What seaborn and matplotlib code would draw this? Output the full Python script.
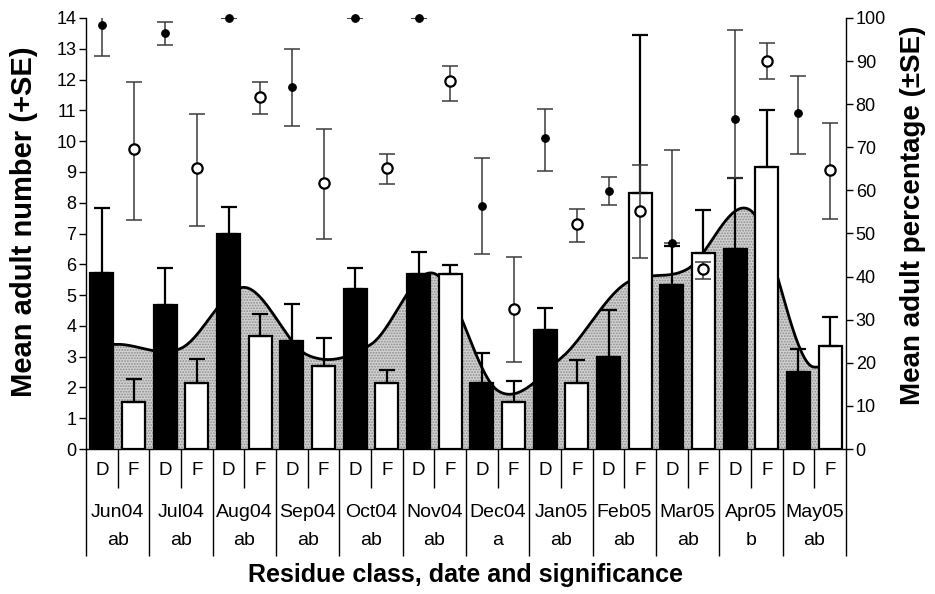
import numpy as np
import pandas as pd
import matplotlib
matplotlib.use("Agg")
import matplotlib.pyplot as plt
import seaborn as sns

# ---- data -------------------------------------------------------------
months = ["Jun04", "Jul04", "Aug04", "Sep04", "Oct04", "Nov04",
          "Dec04", "Jan05", "Feb05", "Mar05", "Apr05", "May05"]
signif = ["ab", "ab", "ab", "ab", "ab", "ab", "a", "ab", "ab", "ab", "b", "ab"]
classes = ["D", "F"]

# mean adult number (+SE)
d_mean = [5.71, 4.68, 6.98, 3.51, 5.20, 5.68, 2.14, 3.86, 2.99, 5.32, 6.49, 2.50]
d_se = [2.11, 1.19, 0.89, 1.20, 0.67, 0.72, 0.98, 0.72, 1.52, 1.28, 2.31, 0.75]
f_mean = [1.53, 2.14, 3.67, 2.69, 2.14, 5.68, 1.53, 2.14, 8.31, 6.36, 9.16, 3.34]
f_se = [0.74, 0.78, 0.71, 0.91, 0.42, 0.29, 0.67, 0.75, 5.13, 1.40, 1.84, 0.95]

# mean adult percentage (lower / upper SE)
d_pct = [98.4, 96.5, 100, 84.0, 100, 100, 56.4, 72.2, 59.9, 47.8, 76.6, 77.9]
d_pct_lo = [7.2, 2.8, 0, 9.0, 0, 0, 11.2, 7.7, 3.3, 0, 13.7, 9.5]
d_pct_hi = [7.2, 2.5, 0, 8.8, 0, 0, 11.1, 6.7, 3.2, 21.6, 20.6, 8.7]
f_pct = [69.6, 65.2, 81.7, 61.7, 65.2, 85.4, 32.5, 52.2, 55.2, 41.7, 90.1, 64.7]
f_pct_lo = [16.4, 13.4, 4.0, 13.0, 3.7, 4.7, 12.3, 4.2, 10.9, 2.3, 4.3, 11.3]
f_pct_hi = [15.5, 12.5, 3.4, 12.5, 3.2, 3.5, 12.0, 3.5, 10.7, 1.7, 4.1, 10.9]

# monthly mean adult number (smoothed background area)
month_curve = [3.40, 3.27, 5.25, 3.05, 3.40, 5.70, 1.90, 2.95, 5.35, 5.85, 7.74, 2.66]

# ---- style ------------------------------------------------------------
sns.set_theme(style="white")
plt.rcParams["font.family"] = ["Liberation Sans", "DejaVu Sans"]
plt.rcParams["hatch.linewidth"] = 0.9
for key in ["text.color", "axes.labelcolor", "xtick.color", "ytick.color"]:
    plt.rcParams[key] = "black"

fig = plt.figure(figsize=(9.35, 5.94), dpi=100)
ax = fig.add_axes([86 / 935, 1 - 449 / 594, 760 / 935, 431 / 594])

n = len(months)
xm = np.arange(n)
off = 0.25


def smooth_curve(y, per=40):
    """Catmull-Rom spline through the monthly points, flat at both ends."""
    y = np.asarray(y, float)
    m = np.zeros_like(y)
    m[1:-1] = (y[2:] - y[:-2]) / 2.0
    xs, ys = [], []
    for i in range(len(y) - 1):
        t = np.linspace(0, 1, per, endpoint=False)
        h00 = 2 * t**3 - 3 * t**2 + 1
        h10 = t**3 - 2 * t**2 + t
        h01 = -2 * t**3 + 3 * t**2
        h11 = t**3 - t**2
        xs.append(i + t)
        ys.append(h00 * y[i] + h10 * m[i] + h01 * y[i + 1] + h11 * m[i + 1])
    xs.append([len(y) - 1])
    ys.append([y[-1]])
    xs = np.concatenate(xs)
    ys = np.concatenate(ys)
    # half-slot flat shoulders at both ends
    xs = np.concatenate([[xs[0] - off], xs, [xs[-1] + off]])
    ys = np.concatenate([[ys[0]], ys, [ys[-1]]])
    return xs, ys


cx, cy = smooth_curve(month_curve)
ax.fill_between(cx, 0, cy, facecolor="#d2d2d2", edgecolor="#8c8c8c",
                hatch="......", linewidth=0, zorder=1)
ax.plot(cx, cy, color="black", lw=2.0, zorder=2)

# bars
df = pd.DataFrame({
    "month": months * 2,
    "cls": ["D"] * n + ["F"] * n,
    "mean": d_mean + f_mean,
})
sns.barplot(data=df, x="month", y="mean", hue="cls", order=months,
            hue_order=classes, palette={"D": "black", "F": "white"},
            width=1.0, gap=0.27, edgecolor="black", linewidth=1.6,
            errorbar=None, legend=False, ax=ax, zorder=3)

ax.errorbar(xm - off, d_mean, yerr=[np.zeros(n), d_se], fmt="none",
            ecolor="black", elinewidth=1.6, capsize=5.5, capthick=1.6, zorder=4)
ax.errorbar(xm + off, f_mean, yerr=[np.zeros(n), f_se], fmt="none",
            ecolor="black", elinewidth=1.6, capsize=5.5, capthick=1.6, zorder=4)

ax.set_xlim(-0.5, n - 0.5)
ax.set_ylim(0, 14)
ax.set_yticks(range(0, 15))
ax.set_xlabel("")
ax.set_ylabel("")

# category axis: long ticks between months, short ticks between D and F
ax.set_xticks(np.arange(-0.5, n, 1.0))
ax.set_xticks(xm, minor=True)
ax.tick_params(axis="x", which="major", direction="out", length=77, width=1,
               color="black", labelbottom=False, bottom=True)
ax.tick_params(axis="x", which="minor", direction="out", length=28, width=1,
               color="black", bottom=True)
ax.tick_params(axis="y", direction="out", length=5, width=1, color="black",
               labelsize=13, left=True, pad=2)

for s in ["top", "right"]:
    ax.spines[s].set_visible(False)
for s in ["left", "bottom"]:
    ax.spines[s].set_color("black")
    ax.spines[s].set_linewidth(1.0)

xt = ax.get_xaxis_transform()
for k in range(n):
    for j, c in enumerate(classes):
        ax.annotate(c, xy=(k + (j * 2 - 1) * off, 0), xycoords=xt,
                    xytext=(0, -15.5), textcoords="offset points",
                    ha="center", va="center", fontsize=13.5)
    ax.annotate(months[k], xy=(k, 0), xycoords=xt, xytext=(0, -45.5),
                textcoords="offset points", ha="center", va="center",
                fontsize=14)
    ax.annotate(signif[k], xy=(k, 0), xycoords=xt, xytext=(0, -66),
                textcoords="offset points", ha="center", va="center",
                fontsize=14)

# percentage axis
ax2 = ax.twinx()
ax2.set_ylim(0, 100)
ax2.set_yticks(range(0, 101, 10))
ax2.tick_params(axis="y", direction="out", length=5, width=1, color="black",
                labelsize=13, right=True, pad=2)
for s in ["top", "left", "bottom"]:
    ax2.spines[s].set_visible(False)
ax2.spines["right"].set_color("black")
ax2.spines["right"].set_linewidth(1.0)

ax2.errorbar(xm - off, d_pct, yerr=[d_pct_lo, d_pct_hi], fmt="none",
             ecolor="#3a3a3a", elinewidth=1.1, capsize=5.5, capthick=1.1,
             zorder=4)
ax2.errorbar(xm + off, f_pct, yerr=[f_pct_lo, f_pct_hi], fmt="none",
             ecolor="#3a3a3a", elinewidth=1.1, capsize=5.5, capthick=1.1,
             zorder=4)
sns.scatterplot(x=xm - off, y=d_pct, ax=ax2, color="black", s=30,
                edgecolor="black", linewidth=0.8, zorder=5, clip_on=False)
sns.scatterplot(x=xm + off, y=f_pct, ax=ax2, color="white", s=55,
                edgecolor="black", linewidth=1.6, zorder=5, clip_on=False)
ax2.set_ylabel("")

fig.text(24 / 935, 1 - 222 / 594, "Mean adult number (+SE)", rotation=90,
         ha="center", va="center", fontsize=21, fontweight="bold")
fig.text(913 / 935, 1 - 215 / 594, "Mean adult percentage (\u00b1SE)",
         rotation=90, ha="center", va="center", fontsize=20,
         fontweight="bold")
fig.text(466 / 935, 1 - 575 / 594, "Residue class, date and significance",
         ha="center", va="center", fontsize=18, fontweight="bold")

fig.savefig("out.png", dpi=100, facecolor="white")
